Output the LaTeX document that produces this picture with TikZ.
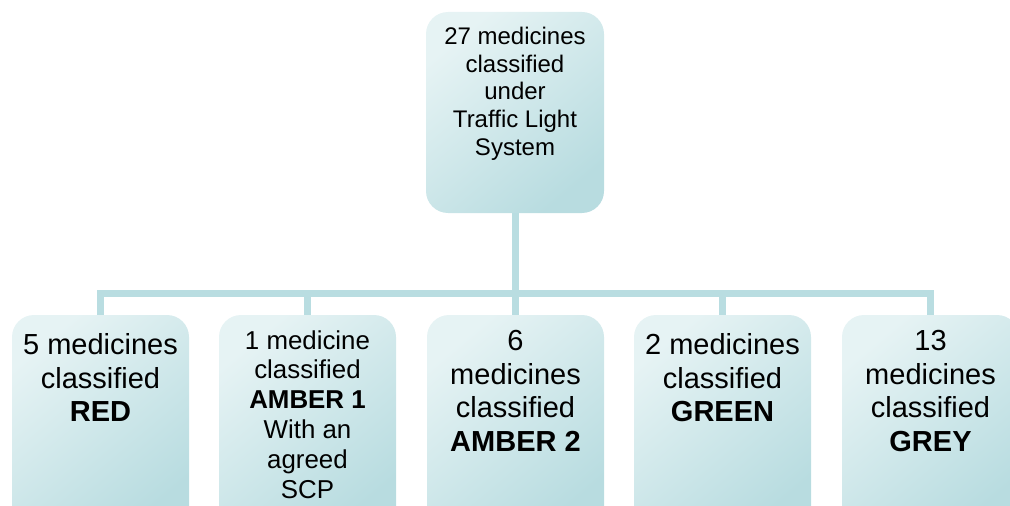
\documentclass[tikz,border=0pt]{standalone}
\usepackage{fontspec}
\setmainfont{Liberation Sans}
\definecolor{boxlight}{HTML}{E6F3F4}
\definecolor{boxdark}{HTML}{B8DCE0}
\definecolor{conncol}{HTML}{B9DDE1}
\begin{document}
\begin{tikzpicture}[x=0.75pt,y=-0.75pt,
  box/.style={draw=none, rounded corners=16.5pt, top color=boxlight, bottom color=boxdark, shading angle=40, inner sep=0pt},
  topbox/.style={box, minimum width=133.5pt, minimum height=150.75pt},
  lowbox/.style={box, minimum width=132.75pt, minimum height=161.25pt},
  toptext/.style={anchor=north, inner sep=0pt, align=center, font=\fontsize{18pt}{20.7pt}\selectfont},
  bigtext/.style={anchor=north, inner sep=0pt, align=center, font=\fontsize{21.75pt}{25.3pt}\selectfont},
  midtext/.style={anchor=north, inner sep=0pt, align=center, font=\fontsize{19.4pt}{22.4pt}\selectfont},
  conn/.style={draw=conncol, line width=5.25pt}]
\useasboundingbox (0,0) rectangle (1010,506);
\clip (0,0) rectangle (1010,506);
% boxes
\node[topbox] (top) at (515,112.5) {};
\node[lowbox] (b1) at (100.5,422.5) {};
\node[lowbox] (b2) at (307.5,422.5) {};
\node[lowbox] (b3) at (515.5,422.5) {};
\node[lowbox] (b4) at (722.5,422.5) {};
\node[lowbox] (b5) at (930.5,422.5) {};
% connectors
\coordinate (bar) at (515,293);
\draw[conn] (top.south) -- (top.south |- bar);
\draw[conn] ([xshift=-2.625pt]b1.north |- bar) -- ([xshift=2.625pt]b5.north |- bar);
\foreach \b in {b1,b2,b3,b4,b5}{
  \draw[conn] (\b.north |- bar) -- (\b.north);
}
% texts
\node[toptext] (ttop) at (515,27) {27 medicines\\classified\\under\\Traffic Light\\System};
\node[bigtext] (t1) at (100.5,333) {5 medicines\\classified\\\textbf{RED}};
\node[midtext] (t2) at (307.5,330) {1 medicine\\classified\\\textbf{AMBER 1}\\With an\\agreed\\SCP};
\node[bigtext] (t3) at (515.5,330) {6\\medicines\\classified\\\textbf{AMBER 2}};
\node[bigtext] (t4) at (722.5,333) {2 medicines\\classified\\\textbf{GREEN}};
\node[bigtext] (t5) at (930.5,330) {13\\medicines\\classified\\\textbf{GREY}};
\end{tikzpicture}
\end{document}
